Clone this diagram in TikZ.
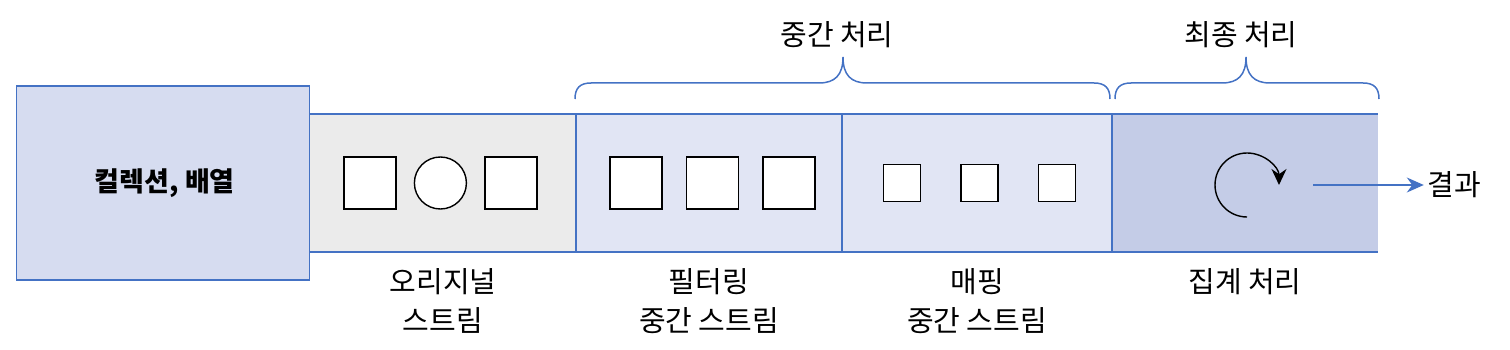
\documentclass[tikz,border=0pt]{standalone}
\usepackage{fontspec}
\setmainfont{Noto Sans CJK KR}
\usepackage{tikz}
\usetikzlibrary{positioning, arrows.meta, calc}

\definecolor{lineblue}{RGB}{68,114,196}
\definecolor{srcfill}{RGB}{214,220,240}
\definecolor{origfill}{RGB}{235,235,235}
\definecolor{midfill}{RGB}{225,229,244}
\definecolor{aggrfill}{RGB}{196,204,231}

\begin{document}
\begin{tikzpicture}[
  x=1pt, y=1pt,
  font=\fontsize{29}{39}\selectfont,
  seg/.style={minimum width=266pt, minimum height=138pt, inner sep=0pt,
    outer sep=0pt},
  srcbox/.style={draw=lineblue, line width=1.5pt, fill=srcfill,
    minimum width=293pt, minimum height=194pt, font=\fontsize{27}{30}\selectfont\bfseries},
  band/.style={lineblue, line width=1.5pt},
  item/.style={draw, line width=1.4pt, fill=white, minimum size=52pt, inner sep=0pt},
  smallitem/.style={item, minimum size=37pt},
  caption/.style={align=center, anchor=north},
  brace/.style={lineblue, line width=1.5pt},
  flow/.style={-{Stealth[length=17pt, width=15pt]}, lineblue, line width=1.3pt},
  spin/.style={-{Stealth[length=16pt, width=15pt]}, black, line width=1.4pt},
]
  \useasboundingbox (0,0) rectangle (1510,-350);

  % stream segments
  \node[seg, fill=origfill] (orig) at (443,-183) {};
  \node[seg, fill=midfill, right=0pt of orig] (filt) {};
  \node[seg, fill=midfill, minimum width=270pt, right=0pt of filt] (mapp) {};
  \node[seg, fill=aggrfill, right=0pt of mapp] (aggr) {};

  \draw[band] (orig.north west) -- (aggr.north east);
  \draw[band] (orig.south west) -- (aggr.south east);
  \foreach \s in {orig, filt, mapp} \draw[band] (\s.north east) -- (\s.south east);

  \node[srcbox, left=0pt of orig] (src) {\hspace*{4pt}컬렉션, 배열};

  % elements in each stream
  \node[item] (o1) at (370,-183) {};
  \node[item, circle, right=17pt of o1] (o2) {};
  \node[item, right=17pt of o2] (o3) {};

  \node[item] (f1) at (636,-183) {};
  \node[item, right=23pt of f1] (f2) {};
  \node[item, right=23pt of f2] (f3) {};

  \node[smallitem] (m1) at (902,-183) {};
  \node[smallitem, right=39pt of m1] (m2) {};
  \node[smallitem, right=39pt of m2] (m3) {};

  \coordinate (turn) at (1247,-185);
  \draw[spin] ($(turn)+(0,-32)$) arc[start angle=270, end angle=0, radius=32pt];

  \coordinate (out) at (1313,-185);
  \node (res) at (1454,-185) {결과};
  \draw[flow] (out) -- (res.west);

  % labels
  \node[caption, below=13pt of orig] {오리지널\\스트림};
  \node[caption, below=13pt of filt] {필터링\\중간 스트림};
  \node[caption, below=13pt of mapp] {매핑\\중간 스트림};
  \node[caption, below=13pt of aggr] {집계 처리};

  % braces
  \foreach \a/\m/\b in {575/843/1110, 1115/1246/1379}
    \draw[brace] (\a,-99) .. controls (\a,-88) and (\a+5,-83) .. (\a+16,-83)
      -- (\m-24,-83) .. controls (\m-8,-83) and (\m,-75) .. (\m,-57)
      .. controls (\m,-75) and (\m+8,-83) .. (\m+24,-83)
      -- (\b-16,-83) .. controls (\b-5,-83) and (\b,-88) .. (\b,-99);

  \node (midlbl) at (837,-35) {중간 처리};
  \node (endlbl) at (1241,-35) {최종 처리};
\end{tikzpicture}
\end{document}
